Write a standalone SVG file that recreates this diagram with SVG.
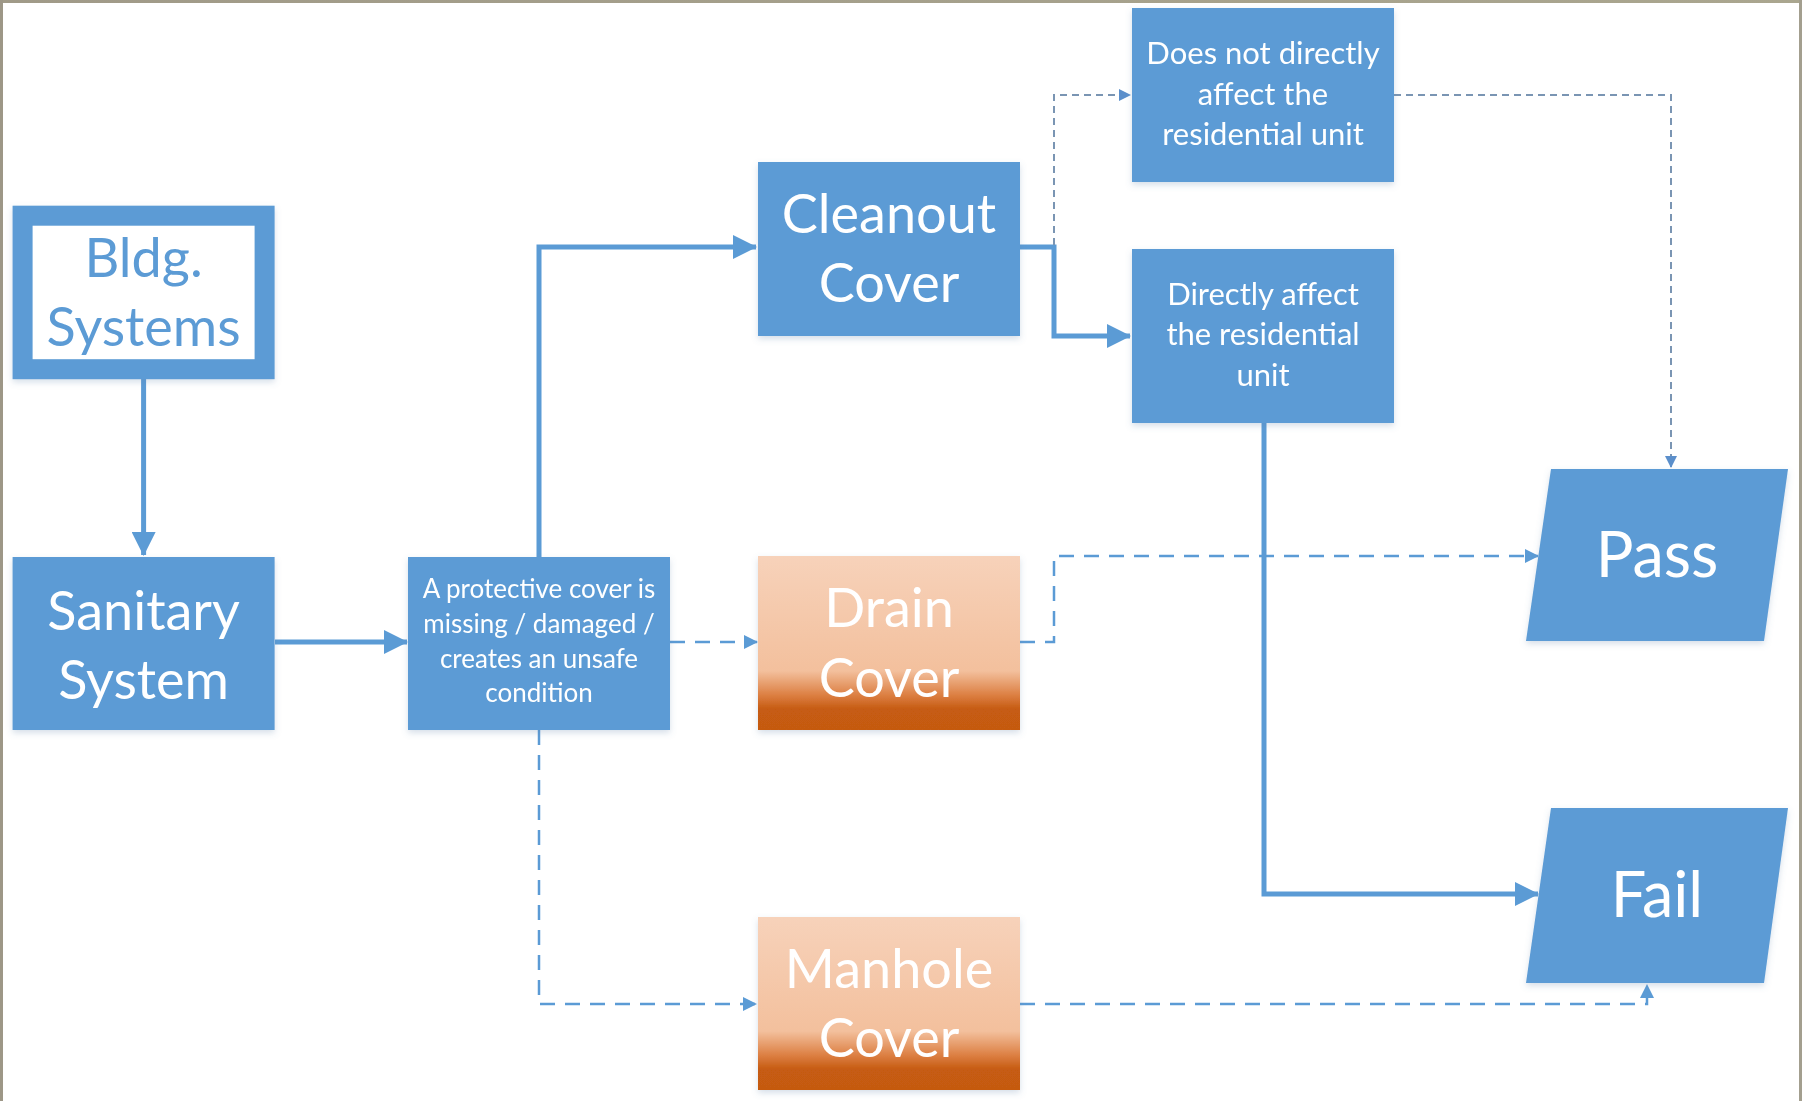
<svg xmlns="http://www.w3.org/2000/svg" width="1802" height="1101" viewBox="0 0 1802 1101">
  <defs>
    <style>
      .box { fill: #5b9bd5; }
      .t { font-family: Lato, "Noto Sans", "Liberation Sans", sans-serif; text-anchor: middle; fill: #ffffff; }
      .big { font-size: 54px; }
      .mid { font-size: 31px; }
      .small { font-size: 26px; }
      .huge { font-size: 63px; }
      .thick { fill: none; stroke: #5b9bd5; stroke-width: 5; }
      .dash { fill: none; stroke: #5b9bd5; stroke-width: 2.5; stroke-dasharray: 15 10; }
      .fine { fill: none; stroke: #7a95b3; stroke-width: 2; stroke-dasharray: 7 5; }
    </style>
    <linearGradient id="orange" x1="0" y1="0" x2="0" y2="1">
      <stop offset="0" stop-color="#f7d2ba"/>
      <stop offset="0.66" stop-color="#f3c09d"/>
      <stop offset="0.8" stop-color="#dc7f42"/>
      <stop offset="0.88" stop-color="#c65b12"/>
      <stop offset="1" stop-color="#c55a11"/>
    </linearGradient>
    <linearGradient id="topband" x1="0" y1="0" x2="1" y2="0">
      <stop offset="0" stop-color="#a09a88"/>
      <stop offset="1" stop-color="#aaa68f"/>
    </linearGradient>
    <filter id="sh" x="-10%" y="-10%" width="120%" height="125%">
      <feDropShadow dx="0" dy="3" stdDeviation="3" flood-color="#5b7fa8" flood-opacity="0.25"/>
    </filter>
    <marker id="ah" markerUnits="userSpaceOnUse" markerWidth="24" markerHeight="24" viewBox="0 0 24 24" refX="23" refY="12" orient="auto">
      <path d="M0 0 L24 12 L0 24 Z" fill="#5b9bd5"/>
    </marker>
    <marker id="ad" markerUnits="userSpaceOnUse" markerWidth="14" markerHeight="14" viewBox="0 0 14 14" refX="13" refY="7" orient="auto">
      <path d="M0 0 L14 7 L0 14 Z" fill="#5b9bd5"/>
    </marker>
    <marker id="af" markerUnits="userSpaceOnUse" markerWidth="12" markerHeight="12" viewBox="0 0 12 12" refX="11" refY="6" orient="auto">
      <path d="M0 0 L12 6 L0 12 Z" fill="#5b8fcb"/>
    </marker>
  </defs>

  <rect x="0" y="0" width="1802" height="1101" fill="#ffffff"/>
  <rect x="0" y="0" width="1802" height="3" fill="url(#topband)"/>
  <rect x="0" y="0" width="3" height="1101" fill="#9d9787"/>
  <rect x="1799" y="0" width="3" height="1101" fill="#a39f8f"/>

  <g id="connectors">
    <path class="thick" d="M143.6 379 V555" marker-end="url(#ah)"/>
    <path class="thick" d="M275 642 H407" marker-end="url(#ah)"/>
    <path class="thick" d="M539 557 V247 H756" marker-end="url(#ah)"/>
    <path class="thick" d="M1020 247 H1054 V336 H1130" marker-end="url(#ah)"/>
    <path class="fine" d="M1054 245 V95 H1130" marker-end="url(#af)"/>
    <path class="fine" d="M1394 95 H1671 V467" marker-end="url(#af)"/>
    <path class="dash" d="M670 642 H757" marker-end="url(#ad)"/>
    <path class="dash" d="M1020 642 H1054 V556 H1538" marker-end="url(#ad)"/>
    <path class="dash" d="M539 730 V1004 H756" marker-end="url(#ad)"/>
    <path class="dash" d="M1020 1004 H1647 V985" marker-end="url(#ad)"/>
    <path class="thick" d="M1264 423 V894 H1538" marker-end="url(#ah)"/>
  </g>

  <g id="bldg-systems" filter="url(#sh)">
    <rect x="22.6" y="215.7" width="242" height="153.5" fill="#ffffff" stroke="#5b9bd5" stroke-width="20"/>
    <text class="t big" x="143.6" y="277" style="fill:#5b9bd5">Bldg.</text>
    <text class="t big" x="143.6" y="346" style="fill:#5b9bd5">Systems</text>
  </g>

  <g id="sanitary-system" filter="url(#sh)">
    <rect class="box" x="12.6" y="557" width="262" height="173"/>
    <text class="t big" x="143.6" y="630">Sanitary</text>
    <text class="t big" x="143.6" y="699">System</text>
  </g>

  <g id="protective-cover" filter="url(#sh)">
    <rect class="box" x="408" y="557" width="262" height="173"/>
    <text class="t small" x="539" y="598">A protective cover is</text>
    <text class="t small" x="539" y="633">missing / damaged /</text>
    <text class="t small" x="539" y="668">creates an unsafe</text>
    <text class="t small" x="539" y="702">condition</text>
  </g>

  <g id="cleanout-cover" filter="url(#sh)">
    <rect class="box" x="758" y="162" width="262" height="174"/>
    <text class="t big" x="889" y="233">Cleanout</text>
    <text class="t big" x="889" y="302">Cover</text>
  </g>

  <g id="drain-cover" filter="url(#sh)">
    <rect x="758" y="556" width="262" height="174" fill="url(#orange)"/>
    <text class="t big" x="889" y="627">Drain</text>
    <text class="t big" x="889" y="697">Cover</text>
  </g>

  <g id="manhole-cover" filter="url(#sh)">
    <rect x="758" y="917" width="262" height="173" fill="url(#orange)"/>
    <text class="t big" x="889" y="988">Manhole</text>
    <text class="t big" x="889" y="1057">Cover</text>
  </g>

  <g id="does-not-affect" filter="url(#sh)">
    <rect class="box" x="1132" y="8" width="262" height="174"/>
    <text class="t mid" x="1263" y="64">Does not directly</text>
    <text class="t mid" x="1263" y="105">affect the</text>
    <text class="t mid" x="1263" y="145">residential unit</text>
  </g>

  <g id="directly-affect" filter="url(#sh)">
    <rect class="box" x="1132" y="249" width="262" height="174"/>
    <text class="t mid" x="1263" y="305">Directly affect</text>
    <text class="t mid" x="1263" y="345">the residential</text>
    <text class="t mid" x="1263" y="386">unit</text>
  </g>

  <g id="pass" filter="url(#sh)">
    <polygon class="box" points="1551,469 1788,469 1764,641 1526,641"/>
    <text class="t huge" x="1657" y="577">Pass</text>
  </g>

  <g id="fail" filter="url(#sh)">
    <polygon class="box" points="1551,808 1788,808 1764,983 1526,983"/>
    <text class="t huge" x="1657" y="917">Fail</text>
  </g>
</svg>
